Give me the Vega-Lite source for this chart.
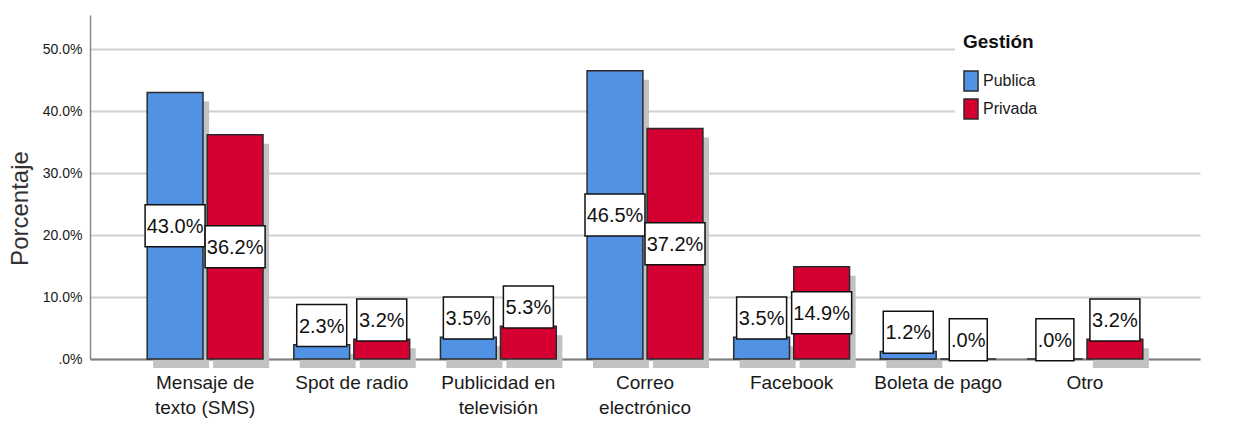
{
  "$schema": "https://vega.github.io/schema/vega-lite/v6.json",
  "width": 1110,
  "height": 344,
  "autosize": {"type": "none"},
  "padding": {"left": 90, "top": 15, "right": 48, "bottom": 71},
  "background": "white",
  "config": {
    "view": {"stroke": null},
    "font": "Liberation Sans, Arial, sans-serif"
  },
  "data": {
    "values": [
      {"medio": "Mensaje de texto (SMS)", "gestion": "Publica", "valor": 43.0},
      {"medio": "Mensaje de texto (SMS)", "gestion": "Privada", "valor": 36.2},
      {"medio": "Spot de radio", "gestion": "Publica", "valor": 2.3},
      {"medio": "Spot de radio", "gestion": "Privada", "valor": 3.2},
      {"medio": "Publicidad en televisión", "gestion": "Publica", "valor": 3.5},
      {"medio": "Publicidad en televisión", "gestion": "Privada", "valor": 5.3},
      {"medio": "Correo electrónico", "gestion": "Publica", "valor": 46.5},
      {"medio": "Correo electrónico", "gestion": "Privada", "valor": 37.2},
      {"medio": "Facebook", "gestion": "Publica", "valor": 3.5},
      {"medio": "Facebook", "gestion": "Privada", "valor": 14.9},
      {"medio": "Boleta de pago", "gestion": "Publica", "valor": 1.2},
      {"medio": "Boleta de pago", "gestion": "Privada", "valor": 0.0},
      {"medio": "Otro", "gestion": "Publica", "valor": 0.0},
      {"medio": "Otro", "gestion": "Privada", "valor": 3.2}
    ]
  },
  "transform": [
    {"calculate": "datum.valor == 0 ? '.0%' : format(datum.valor, '.1f') + '%'", "as": "etiqueta"},
    {"calculate": "length(datum.etiqueta)", "as": "largo"},
    {"calculate": "datum.valor / 2 >= 3.8 ? datum.valor / 2 : datum.valor + 3.1", "as": "posEtiqueta"}
  ],
  "encoding": {
    "x": {
      "field": "medio",
      "type": "nominal",
      "sort": ["Mensaje de texto (SMS)", "Spot de radio", "Publicidad en televisión", "Correo electrónico", "Facebook", "Boleta de pago", "Otro"],
      "scale": {"paddingInner": 0.21, "paddingOuter": 0.39},
      "axis": {
        "title": null,
        "ticks": false,
        "labelAngle": 0,
        "labelFontSize": 19,
        "labelColor": "#1a1a1a",
        "labelPadding": 14,
        "labelLineHeight": 25,
        "labelLimit": 300,
        "domainColor": "#808080",
        "domainWidth": 2,
        "labelExpr": "datum.value == 'Mensaje de texto (SMS)' ? ['Mensaje de', 'texto (SMS)'] : datum.value == 'Publicidad en televisión' ? ['Publicidad en', 'televisión'] : datum.value == 'Correo electrónico' ? ['Correo', 'electrónico'] : datum.value"
      }
    }
  },
  "layer": [
    {
      "transform": [{"filter": "datum.gestion == 'Publica'"}],
      "mark": {"type": "bar", "color": "#c2c2c2", "width": 56, "xOffset": -24, "yOffset": 9},
      "encoding": {
        "y": {"field": "valor", "type": "quantitative", "scale": {"domain": [0, 55.5], "nice": false}}
      }
    },
    {
      "transform": [{"filter": "datum.gestion == 'Privada'"}],
      "mark": {"type": "bar", "color": "#c2c2c2", "width": 56, "xOffset": 36, "yOffset": 9},
      "encoding": {
        "y": {"field": "valor", "type": "quantitative"}
      }
    },
    {
      "mark": {"type": "bar", "stroke": "#2b2b2b", "strokeWidth": 1.5},
      "encoding": {
        "xOffset": {"field": "gestion", "type": "nominal", "sort": ["Publica", "Privada"], "scale": {"paddingInner": 0.07}},
        "y": {
          "field": "valor",
          "type": "quantitative",
          "axis": {
            "title": "Porcentaje",
            "titleFontSize": 24,
            "titleFontWeight": "normal",
            "titleColor": "#333333",
            "titlePadding": 10,
            "titleY": 193,
            "values": [0, 10, 20, 30, 40, 50],
            "labelExpr": "datum.value == 0 ? '.0%' : format(datum.value, '.1f') + '%'",
            "labelFontSize": 14,
            "labelColor": "#1a1a1a",
            "labelPadding": 8,
            "ticks": false,
            "grid": true,
            "gridColor": "#d0d0d0",
            "gridWidth": 2,
            "domainColor": "#8a8a8a",
            "domainWidth": 1.5
          }
        },
        "color": {
          "field": "gestion",
          "type": "nominal",
          "scale": {"domain": ["Publica", "Privada"], "range": ["#5292e4", "#d50032"]},
          "legend": {
            "title": "Gestión",
            "orient": "none",
            "legendX": 865,
            "legendY": 10,
            "padding": 8,
            "fillColor": "white",
            "titleFontSize": 19,
            "titleFontWeight": "bold",
            "titleColor": "#111111",
            "titlePadding": 21,
            "labelFontSize": 16,
            "labelColor": "#1a1a1a",
            "labelOffset": 4,
            "labelLimit": 400,
            "symbolType": "M-1,-1.43L1,-1.43L1,1.43L-1,1.43Z M33,0",
            "symbolSize": 196,
            "symbolStrokeColor": "#2b2b2b",
            "symbolStrokeWidth": 1.5,
            "rowPadding": 0
          }
        }
      }
    },
    {
      "mark": {"type": "point", "filled": true, "fill": "white", "stroke": "#111111", "strokeWidth": 1.5, "opacity": 1, "size": 3600},
      "encoding": {
        "xOffset": {"field": "gestion", "type": "nominal", "sort": ["Publica", "Privada"]},
        "y": {"field": "posEtiqueta", "type": "quantitative"},
        "shape": {
          "field": "largo",
          "type": "ordinal",
          "scale": {"domain": [3, 4, 5], "range": ["M-0.633,-0.7L0.633,-0.7L0.633,0.7L-0.633,0.7Z", "M-0.833,-0.7L0.833,-0.7L0.833,0.7L-0.833,0.7Z", "M-1,-0.7L1,-0.7L1,0.7L-1,0.7Z"]},
          "legend": null
        }
      }
    },
    {
      "mark": {"type": "text", "fontSize": 20, "color": "#111111", "baseline": "middle", "align": "center", "dy": 1},
      "encoding": {
        "xOffset": {"field": "gestion", "type": "nominal", "sort": ["Publica", "Privada"]},
        "y": {"field": "posEtiqueta", "type": "quantitative"},
        "text": {"field": "etiqueta", "type": "nominal"}
      }
    }
  ]
}
